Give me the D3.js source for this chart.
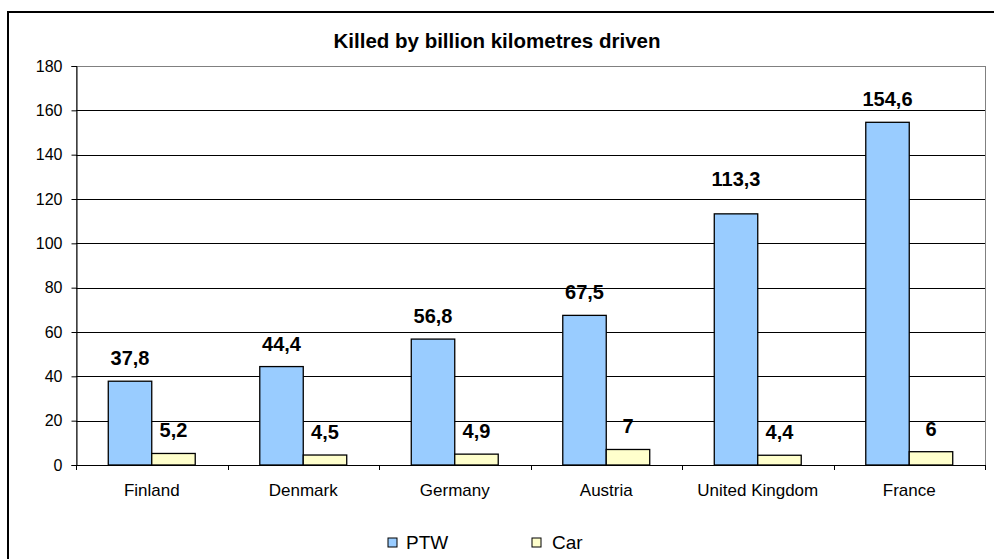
<!DOCTYPE html>
<html>
<head>
<meta charset="utf-8">
<script src="https://cdn.jsdelivr.net/npm/d3@7"></script>
<style>
  body { margin: 0; background: #fff; }
  svg { display: block; font-family: "Liberation Sans", Arial, sans-serif; }
</style>
</head>
<body>
<div id="chart"></div>
<script>
var countries = ['Finland', 'Denmark', 'Germany', 'Austria', 'United Kingdom', 'France'];
var seriesNames = ['PTW', 'Car'];
var ptw = [37.8, 44.4, 56.8, 67.5, 113.3, 154.6];
var car = [5.2, 4.5, 4.9, 7, 4.4, 6];
var yTicks = [0, 20, 40, 60, 80, 100, 120, 140, 160, 180];

var width = 994, height = 559;
// plot area (named so it doesn't clash with window.top)
var plotLeft = 76, plotRight = 985, plotTop = 66, plotBottom = 465;
var colors = { PTW: '#99ccff', Car: '#ffffcc' };
// the UK PTW label sits a bit higher than the others in the original
var labelNudge = { 'United Kingdom|PTW': 12 };

var rows = countries.map(function(c, i) {
    return { country: c, PTW: ptw[i], Car: car[i] };
});

var svg = d3.select('#chart').append('svg')
    .attr('width', width)
    .attr('height', height);

// outer frame
svg.append('rect')
    .attr('x', 8).attr('y', 12)
    .attr('width', 1000).attr('height', 600)
    .attr('fill', '#fff')
    .attr('stroke', '#000')
    .attr('stroke-width', 2);

var x0 = d3.scaleBand()
    .domain(countries)
    .range([plotLeft, plotRight])
    .paddingInner(0.426)
    .paddingOuter(0.213);

var x1 = d3.scaleBand()
    .domain(seriesNames)
    .range([0, x0.bandwidth()]);

var y = d3.scaleLinear()
    .domain([0, 180])
    .range([plotBottom, plotTop]);

// plot area border
svg.append('rect')
    .attr('x', plotLeft + 0.5).attr('y', plotTop + 0.5)
    .attr('width', plotRight - plotLeft).attr('height', plotBottom - plotTop)
    .attr('fill', 'none')
    .attr('stroke', '#808080');

// gridlines
svg.append('g')
    .selectAll('line')
    .data(yTicks.filter(function(t) { return t > 0 && t < 180; }))
    .enter().append('line')
    .attr('x1', plotLeft).attr('x2', plotRight)
    .attr('y1', function(d) { return Math.round(y(d)) + 0.5; })
    .attr('y2', function(d) { return Math.round(y(d)) + 0.5; })
    .attr('stroke', '#000');

// bars
var groups = svg.append('g')
    .selectAll('g')
    .data(rows)
    .enter().append('g')
    .attr('transform', function(d) { return 'translate(' + x0(d.country) + ',0)'; });

function cells(d) {
    return seriesNames.map(function(s) { return { country: d.country, key: s, value: d[s] }; });
}

groups.selectAll('rect')
    .data(cells)
    .enter().append('rect')
    .attr('x', function(d) { return x1(d.key); })
    .attr('y', function(d) { return y(d.value); })
    .attr('width', x1.bandwidth())
    .attr('height', function(d) { return plotBottom - y(d.value); })
    .attr('fill', function(d) { return colors[d.key]; })
    .attr('stroke', '#000')
    .attr('stroke-width', 1.3);

groups.selectAll('text')
    .data(cells)
    .enter().append('text')
    .attr('x', function(d) { return x1(d.key) + x1.bandwidth() / 2; })
    .attr('y', function(d) {
        return y(d.value) - 16 - (labelNudge[d.country + '|' + d.key] || 0);
    })
    .attr('text-anchor', 'middle')
    .attr('font-size', 20)
    .attr('font-weight', 'bold')
    .text(function(d) { return String(d.value).replace('.', ','); });

// y axis
var axisY = d3.axisLeft(y)
    .tickValues(yTicks)
    .tickSize(5)
    .tickPadding(9);

var gy = svg.append('g')
    .attr('transform', 'translate(' + (plotLeft + 0.5) + ',0)')
    .call(axisY);
gy.selectAll('text').attr('font-size', 16).attr('fill', '#000').attr('font-family', null);
gy.select('.domain').attr('stroke', '#000');

// x axis
var axisX = d3.axisBottom(x0)
    .tickSize(0)
    .tickPadding(19);

var gx = svg.append('g')
    .attr('transform', 'translate(0,' + plotBottom + ')')
    .call(axisX);
gx.selectAll('text').attr('font-size', 17).attr('fill', '#000').attr('font-family', null);
gx.select('.domain').attr('stroke', '#000').attr('d', 'M' + plotLeft + ',0.5H' + plotRight);

var step = x0.step();
gx.append('g')
    .selectAll('line')
    .data(d3.range(countries.length + 1))
    .enter().append('line')
    .attr('x1', function(i) { return Math.round(plotLeft + i * step) + 0.5; })
    .attr('x2', function(i) { return Math.round(plotLeft + i * step) + 0.5; })
    .attr('y1', 0).attr('y2', 5)
    .attr('stroke', '#000');

// title
svg.append('text')
    .attr('x', 497)
    .attr('y', 48)
    .attr('text-anchor', 'middle')
    .attr('font-size', 20.5)
    .attr('font-weight', 'bold')
    .text('Killed by billion kilometres driven');

// legend
var legendX = [388, 532];
var legend = svg.append('g')
    .selectAll('g')
    .data(seriesNames)
    .enter().append('g')
    .attr('transform', function(d, i) { return 'translate(' + legendX[i] + ',538)'; });

legend.append('rect')
    .attr('width', 9).attr('height', 9)
    .attr('fill', function(d) { return colors[d]; })
    .attr('stroke', '#000');

legend.append('text')
    .attr('x', function(d, i) { return i === 0 ? 18 : 20; })
    .attr('y', 11)
    .attr('font-size', 19)
    .text(function(d) { return d; });
</script>
</body>
</html>
